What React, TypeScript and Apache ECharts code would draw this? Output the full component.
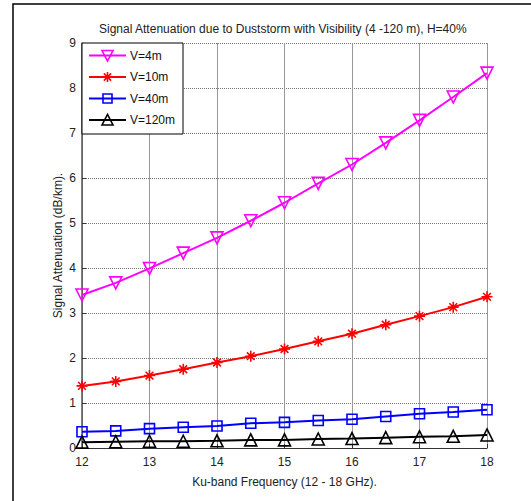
import React, { useEffect, useRef } from "react";
import * as echarts from "echarts";

const freqs = [12, 12.5, 13, 13.5, 14, 14.5, 15, 15.5, 16, 16.5, 17, 17.5, 18];
const v4 = [3.4, 3.67, 3.99, 4.33, 4.67, 5.05, 5.45, 5.88, 6.3, 6.78, 7.28, 7.8, 8.33];
const v10 = [1.38, 1.48, 1.61, 1.75, 1.9, 2.04, 2.2, 2.37, 2.54, 2.74, 2.93, 3.13, 3.36];
const v40 = [0.36, 0.38, 0.43, 0.46, 0.49, 0.55, 0.57, 0.61, 0.64, 0.7, 0.76, 0.8, 0.85];
const v120 = [0.13, 0.14, 0.15, 0.15, 0.16, 0.18, 0.18, 0.2, 0.21, 0.23, 0.25, 0.26, 0.29];
const seriesNames = ["V=4m", "V=10m", "V=40m", "V=120m"];
const seriesColors = ["#ff00ff", "#ff0000", "#0000ff", "#000000"];
const titleText = "Signal Attenuation due to Duststorm with Visibility (4 -120 m), H=40%";
const xName = "Ku-band Frequency (12 - 18 GHz).";
const yName = "Signal Attenuation (dB/km).";

const asterisk = "path://M5,0L5,10M0,5L10,5M1.5,1.5L8.5,8.5M1.5,8.5L8.5,1.5";
const clear = "rgba(255,255,255,0)";

export default function App() {
  const ref = useRef<HTMLDivElement>(null);
  useEffect(() => {
    if (!ref.current) return;
    const chart = echarts.init(ref.current, undefined, { renderer: "svg" });
    const pts = (ys: number[]) => freqs.map((x, i) => [x, ys[i]]);
    const font = "'Liberation Sans', Arial, sans-serif";
    const mk = (name: string, ys: number[], color: string, symbol: string, size: number, rotate = 0) => ({
      name,
      type: "line",
      data: pts(ys),
      symbol,
      symbolSize: size,
      symbolRotate: rotate,
      lineStyle: { color, width: 2 },
      itemStyle: { color: clear, borderColor: color, borderWidth: 1.6 },
      emphasis: { disabled: true },
      z: 3,
    });

    // hand-drawn legend box (MATLAB style)
    const boxX = 82, boxY = 43, boxW = 101, boxH = 91;
    const x1 = 89, x2 = 126, cx = (x1 + x2) / 2;
    const legend: any[] = [
      { type: "rect", shape: { x: boxX, y: boxY, width: boxW, height: boxH }, style: { fill: "#fff", stroke: "#000", lineWidth: 1 }, z: 100, silent: true },
    ];
    seriesNames.forEach((name, i) => {
      const cy = 55.5 + i * 21.5;
      const c = seriesColors[i];
      const st = { stroke: c, fill: "none", lineWidth: 1.6 };
      legend.push({ type: "line", shape: { x1, y1: cy, x2, y2: cy }, style: { stroke: c, lineWidth: 2 }, z: 101, silent: true });
      if (i === 0) {
        legend.push({ type: "polygon", shape: { points: [[cx - 5.5, cy - 5], [cx + 5.5, cy - 5], [cx, cy + 5.5]] }, style: st, z: 102, silent: true });
      } else if (i === 1) {
        const r = 5, d = 3.6;
        [[0, -r, 0, r], [-r, 0, r, 0], [-d, -d, d, d], [-d, d, d, -d]].forEach(([a, b, e, f]) =>
          legend.push({ type: "line", shape: { x1: cx + a, y1: cy + b, x2: cx + e, y2: cy + f }, style: { stroke: c, lineWidth: 1.6 }, z: 102, silent: true })
        );
      } else if (i === 2) {
        legend.push({ type: "rect", shape: { x: cx - 4.5, y: cy - 4.5, width: 9, height: 9 }, style: st, z: 102, silent: true });
      } else {
        legend.push({ type: "polygon", shape: { points: [[cx - 5.5, cy + 5], [cx + 5.5, cy + 5], [cx, cy - 5.5]] }, style: st, z: 102, silent: true });
      }
      legend.push({
        type: "text",
        x: 130,
        y: cy,
        style: { text: name, fill: "#111", font: `12px ${font}`, textVerticalAlign: "middle", verticalAlign: "middle" },
        z: 102,
        silent: true,
      });
    });

    chart.setOption({
      animation: false,
      backgroundColor: "#fff",
      textStyle: { fontFamily: font },
      title: {
        text: titleText,
        left: 94,
        top: 18,
        textStyle: { fontSize: 12, fontWeight: "normal", color: "#222", fontFamily: font },
      },
      grid: { left: 82, right: 44, top: 43, bottom: 53, containLabel: false },
      xAxis: {
        type: "value",
        min: 12,
        max: 18,
        interval: 1,
        name: xName,
        nameLocation: "middle",
        nameGap: 28,
        nameMoveOverlap: false,
        nameTextStyle: { fontSize: 12, color: "#222", fontFamily: font },
        axisLine: { onZero: false, lineStyle: { color: "#333", width: 1.2 } },
        axisTick: { inside: true, length: 4, lineStyle: { color: "#333" } },
        axisLabel: { fontSize: 12, color: "#222", margin: 8, fontFamily: font },
        splitLine: { show: true, lineStyle: { color: "#999", width: 1, type: "solid" } },
      },
      yAxis: {
        type: "value",
        min: 0,
        max: 9,
        interval: 1,
        name: yName,
        nameLocation: "middle",
        nameGap: 18,
        nameMoveOverlap: false,
        nameTextStyle: { fontSize: 12, color: "#222", fontFamily: font },
        axisLine: { show: true, lineStyle: { color: "#555", width: 1.5 } },
        axisTick: { show: true, inside: true, length: 4, lineStyle: { color: "#333" } },
        axisLabel: { fontSize: 12, color: "#222", margin: 6, fontFamily: font },
        splitLine: { show: true, lineStyle: { color: "#777", width: 1, type: [1, 1] } },
      },
      graphic: [
        {
          type: "rect",
          shape: { x: 13, y: 4, width: 600, height: 600 },
          style: { fill: "none", stroke: "#000", lineWidth: 1.5 },
          silent: true,
          z: 100,
        },
        ...legend,
      ],
      series: [
        mk(seriesNames[0], v4, seriesColors[0], "triangle", 12, 180),
        mk(seriesNames[1], v10, seriesColors[1], asterisk, 11),
        mk(seriesNames[2], v40, seriesColors[2], "rect", 10),
        mk(seriesNames[3], v120, seriesColors[3], "triangle", 12),
      ],
    });
    return () => chart.dispose();
  }, []);
  return <div ref={ref} style={{ position: "fixed", left: 0, top: 0, width: 531, height: 501 }} />;
}
